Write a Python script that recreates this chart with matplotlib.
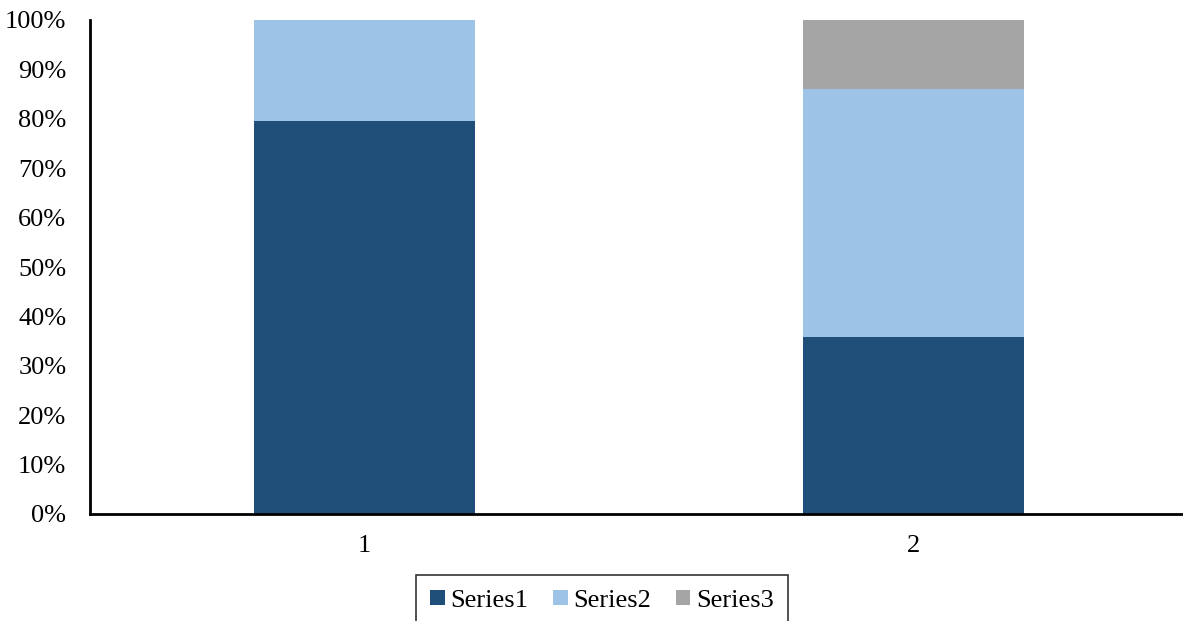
import matplotlib

matplotlib.use("Agg")
import matplotlib.pyplot as plt
from matplotlib.ticker import PercentFormatter

categories = ["1", "2"]
series_names = ["Series1", "Series2", "Series3"]
series1 = [79.5, 35.8]
series2 = [20.5, 50.2]
series3 = [0.0, 14.0]
colors = ["#1F4E79", "#9DC3E6", "#A5A5A5"]

plt.rcParams["font.family"] = ["Liberation Serif", "DejaVu Serif"]

fig = plt.figure(figsize=(11.83, 6.21), dpi=100)
ax = fig.add_axes([90 / 1183, 107 / 621, 1093 / 1183, 494 / 621])

x = list(range(len(categories)))
bottom = [0.0] * len(categories)
for name, vals, col in zip(series_names, [series1, series2, series3], colors):
    ax.bar(x, vals, width=0.4025, bottom=bottom, color=col, label=name, zorder=2)
    bottom = [b + v for b, v in zip(bottom, vals)]

ax.set_xlim(-0.5, 1.49)
ax.set_ylim(0, 100)
ax.set_yticks(range(0, 101, 10))
ax.yaxis.set_major_formatter(PercentFormatter(decimals=0))
ax.set_xticks(x)
ax.set_xticklabels(categories)
ax.tick_params(axis="both", length=0, labelsize=19, colors="black")
ax.tick_params(axis="x", pad=15)
ax.tick_params(axis="y", pad=17)
for s in ["top", "right"]:
    ax.spines[s].set_visible(False)
for s in ["left", "bottom"]:
    ax.spines[s].set_linewidth(2)
    ax.spines[s].set_color("black")

leg = fig.legend(loc="upper center", bbox_to_anchor=(602 / 1183, 46 / 621), ncol=3,
                 fontsize=19, frameon=True, fancybox=False, edgecolor="black",
                 handlelength=0.55, handleheight=0.55, handletextpad=0.2,
                 columnspacing=0.95, borderpad=0.55, borderaxespad=0)
leg.get_frame().set_linewidth(1.2)

fig.savefig("out.png", dpi=100)
